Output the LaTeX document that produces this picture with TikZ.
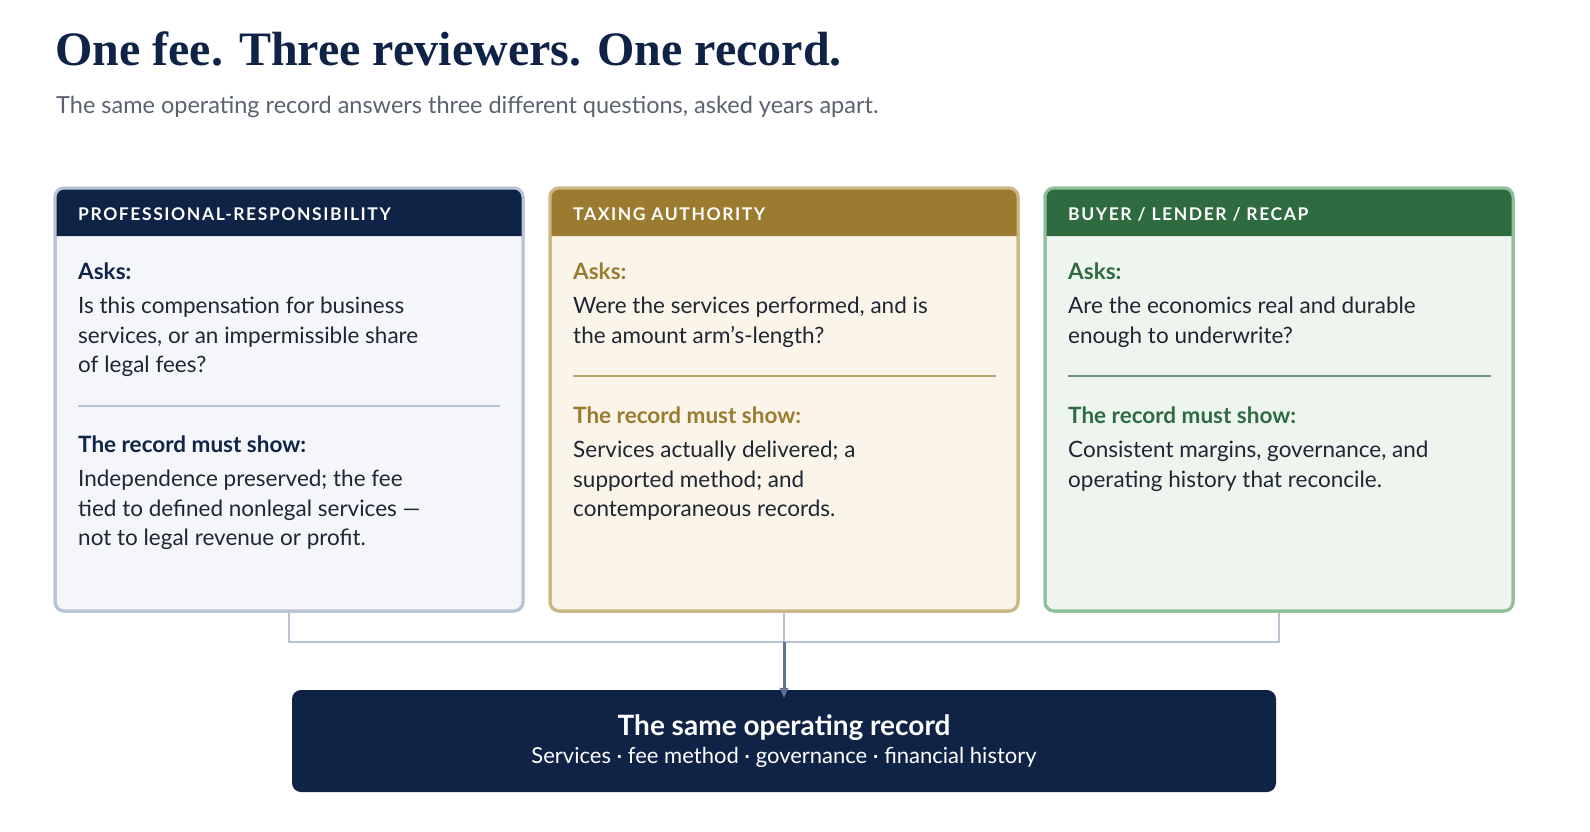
\documentclass[tikz,border=0pt]{standalone}
\usepackage{fontspec}
\setmainfont{Lato}
\newfontfamily\ttl{Liberation Serif}
\newfontfamily\hdr[LetterSpace=9]{Lato}
\usetikzlibrary{arrows.meta}
\definecolor{navy}{HTML}{0F2346}
\definecolor{gold}{HTML}{9A7B2F}
\definecolor{grn}{HTML}{2E6B40}
\definecolor{f1}{HTML}{F4F6FA}\definecolor{f2}{HTML}{FAF5E8}\definecolor{f3}{HTML}{EEF5EF}
\definecolor{e1}{HTML}{B8C4D6}\definecolor{e2}{HTML}{CBB683}\definecolor{e3}{HTML}{8FBE9A}
\definecolor{sub}{HTML}{5A6270}\definecolor{body}{HTML}{1F2633}\definecolor{arr}{HTML}{5F7494}
\begin{document}
\begin{tikzpicture}[x=1pt,y=-1pt,
 box/.style={draw=#1,line width=3pt,rounded corners=9pt,minimum width=468pt,minimum height=423pt,inner sep=0pt},
 txt/.style={anchor=north west,align=left,inner sep=0pt,font=\fontsize{22.5}{29.5}\selectfont,text=body},
 lab/.style={anchor=north west,inner sep=0pt,font=\fontsize{22.5}{29.5}\selectfont\bfseries,text=#1},
 hd/.style={anchor=west,inner sep=0pt,font=\fontsize{17.5}{20}\selectfont\hdr\bfseries,text=white},
 link/.style={draw=e1,line width=2.5pt}]
\useasboundingbox (0,0) rectangle (1590,832);
\node[anchor=base west,inner sep=0pt,font=\fontsize{48}{50}\selectfont\ttl\bfseries,text=navy] (t) at (55,66) {One fee. Three reviewers. One record.};
\node[anchor=base west,inner sep=0pt,font=\fontsize{23.5}{26}\selectfont,text=sub] (s) at (56,114) {The same operating record answers three different questions, asked years apart.};
\foreach \i/\cx/\fc/\ec/\hc in {1/289/f1/e1/navy,2/784/f2/e2/gold,3/1279/f3/e3/grn}{
 \node[box=\ec,fill=\fc] (b\i) at (\cx,399.5) {};
 \fill[\hc] (\cx-234,236) [rounded corners=9pt] |- (\cx+234,188) -- (\cx+234,204) [sharp corners] -- (\cx+234,236) -- cycle;
 \node[box=\ec] at (\cx,399.5) {};
}
\node[hd] (h1) at (78,214) {PROFESSIONAL-RESPONSIBILITY};
\node[hd] (h2) at (573,214) {TAXING AUTHORITY};
\node[hd] (h3) at (1068,214) {BUYER / LENDER / RECAP};
\node[lab=navy] (a1) at (78,263) {Asks:};
\node[txt] (q1) at (78,297) {Is this compensation for business\\services, or an impermissible share\\of legal fees?};
\draw[e1,line width=1.5pt] (78,406) -- (500,406);
\node[lab=navy] (r1) at (78,436) {The record must show:};
\node[txt] (p1) at (78,470) {Independence preserved; the fee\\tied to defined nonlegal services ---\\not to legal revenue or profit.};
\node[lab=gold] (a2) at (573,263) {Asks:};
\node[txt] (q2) at (573,297) {Were the services performed, and is\\the amount arm's-length?};
\draw[gold!70,line width=1.5pt] (573,376) -- (996,376);
\node[lab=gold] (r2) at (573,407) {The record must show:};
\node[txt] (p2) at (573,441) {Services actually delivered; a\\supported method; and\\contemporaneous records.};
\node[lab=grn] (a3) at (1068,263) {Asks:};
\node[txt] (q3) at (1068,297) {Are the economics real and durable\\enough to underwrite?};
\draw[grn!70,line width=1.5pt] (1068,376) -- (1491,376);
\node[lab=grn] (r3) at (1068,407) {The record must show:};
\node[txt] (p3) at (1068,441) {Consistent margins, governance, and\\operating history that reconcile.};
\node[fill=navy,rounded corners=9pt,minimum width=984pt,minimum height=102pt,align=center,text=white,inner sep=0pt] (out) at (784,741)
 {{\fontsize{28}{34}\selectfont\bfseries The same operating record}\\[6pt]{\fontsize{22}{26}\selectfont Services · fee method · governance · financial history}};
\coordinate (j) at (784,642);
\draw[link] (b1.south) |- (j) -| (b3.south);
\draw[link] (b2.south) -- (j);
\draw[draw=arr,line width=3pt,-{Latex[length=11pt,width=10pt]}] (j) -- ([yshift=-9pt]out.north);
\end{tikzpicture}
\end{document}
